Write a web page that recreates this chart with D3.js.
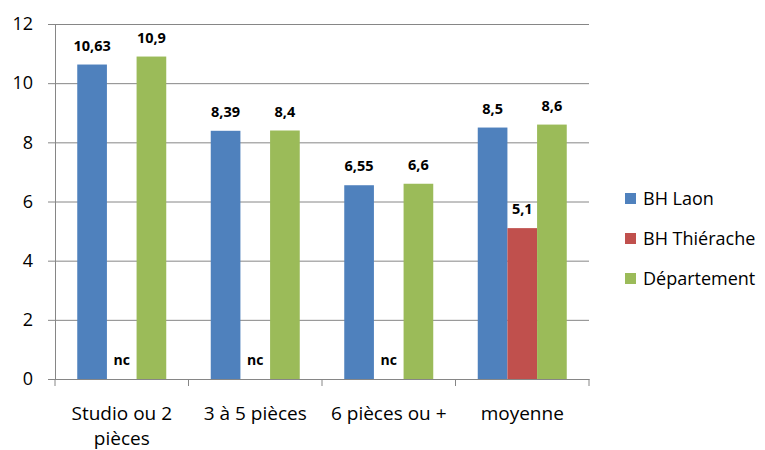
<!DOCTYPE html>
<html>
<head>
<meta charset="utf-8">
<script src="https://cdn.jsdelivr.net/npm/d3@7"></script>
<style>
  body { margin: 0; background: #fff; }
  text { font-family: "Open Sans", Lato, sans-serif; fill: #000; }
</style>
</head>
<body>
<svg id="chart" width="765" height="450"></svg>
<script>
// Loyers moyens par type de logement
const categories = ["Studio ou 2 pièces", "3 à 5 pièces", "6 pièces ou +", "moyenne"];
const seriesNames = ["BH Laon", "BH Thiérache", "Département"];
const bhLaon = [10.63, 8.39, 6.55, 8.5];
const bhThierache = [null, null, null, 5.1];   // null = non communiqué
const departement = [10.9, 8.4, 6.6, 8.6];
const yTicks = [0, 2, 4, 6, 8, 10, 12];
const colors = ["#4F81BD", "#C0504D", "#9BBB59"];

const series = [bhLaon, bhThierache, departement];
const fmt = v => String(v).replace(".", ",");

const svg = d3.select("#chart");
const margin = { left: 55, right: 176, top: 24, bottom: 71 };
const W = 765, H = 450;
const plotW = W - margin.left - margin.right;
const plotH = H - margin.top - margin.bottom;

const g = svg.append("g").attr("transform", `translate(${margin.left},${margin.top})`);

const x0 = d3.scaleBand().domain(categories).range([0, plotW]).padding(0);
const x1 = d3.scaleBand().domain(d3.range(series.length))
  .range([0, x0.bandwidth()]).paddingOuter(0.75).paddingInner(0);
const y = d3.scaleLinear().domain([0, 12]).range([plotH, 0]);

// Horizontal gridlines with left tick marks
const yAxis = d3.axisLeft(y).tickValues(yTicks).tickSize(-plotW).tickPadding(22).tickFormat(d => d);
const ya = g.append("g").call(yAxis);
ya.select(".domain").attr("stroke", "#868686");
ya.selectAll(".tick line").attr("stroke", "#868686").attr("x1", -7);
ya.selectAll(".tick text").attr("font-size", 18).attr("fill", "#000");

// Bars and value labels
categories.forEach((c, i) => {
  series.forEach((s, j) => {
    const v = s[i];
    const bx = x0(c) + x1(j);
    if (v == null) {
      g.append("text")
        .attr("x", bx + x1.bandwidth() / 2)
        .attr("y", y(0) - 14)
        .attr("text-anchor", "middle")
        .attr("font-size", 14)
        .attr("font-weight", "bold")
        .text("nc");
      return;
    }
    g.append("rect")
      .attr("x", bx).attr("y", y(v))
      .attr("width", x1.bandwidth()).attr("height", y(0) - y(v))
      .attr("fill", colors[j]);
    g.append("text")
      .attr("x", bx + x1.bandwidth() / 2)
      .attr("y", y(v) - 14)
      .attr("text-anchor", "middle")
      .attr("font-size", 14.5)
      .attr("font-weight", "bold")
      .text(fmt(v));
  });
});

// Category axis
const xAxis = d3.axisBottom(x0).tickSize(0).tickPadding(28);
const xa = g.append("g").attr("transform", `translate(0,${plotH})`).call(xAxis);
xa.select(".domain").attr("stroke", "#868686");
xa.selectAll(".tick text").attr("font-size", 19).attr("fill", "#000")
  .call(wrap, x0.bandwidth() - 14);

// Category separators
g.append("g").selectAll("line")
  .data(d3.range(categories.length + 1))
  .join("line")
  .attr("x1", i => i * x0.bandwidth()).attr("x2", i => i * x0.bandwidth())
  .attr("y1", plotH).attr("y2", plotH + 7)
  .attr("stroke", "#868686");

function wrap(texts, width) {
  texts.each(function () {
    const text = d3.select(this);
    const words = text.text().split(/\s+/);
    const yAttr = text.attr("y"), dy = parseFloat(text.attr("dy")) || 0;
    text.text(null);
    let line = [], lineNo = 0;
    let tspan = text.append("tspan").attr("x", 0).attr("y", yAttr).attr("dy", dy + "em");
    words.forEach(w => {
      line.push(w);
      tspan.text(line.join(" "));
      if (tspan.node().getComputedTextLength() > width && line.length > 1) {
        line.pop();
        tspan.text(line.join(" "));
        line = [w];
        tspan = text.append("tspan").attr("x", 0).attr("y", yAttr)
          .attr("dy", (++lineNo * 1.3 + dy) + "em").text(w);
      }
    });
  });
}

// Legend
const legend = svg.append("g").attr("transform", "translate(625,198.5)");
seriesNames.forEach((n, i) => {
  const row = legend.append("g").attr("transform", `translate(0,${i * 40})`);
  row.append("rect").attr("x", 0).attr("y", -5.5).attr("width", 11).attr("height", 11).attr("fill", colors[i]);
  row.append("text").attr("x", 18).attr("y", 0).attr("dy", "0.35em").attr("font-size", 18).text(n);
});
</script>
</body>
</html>
